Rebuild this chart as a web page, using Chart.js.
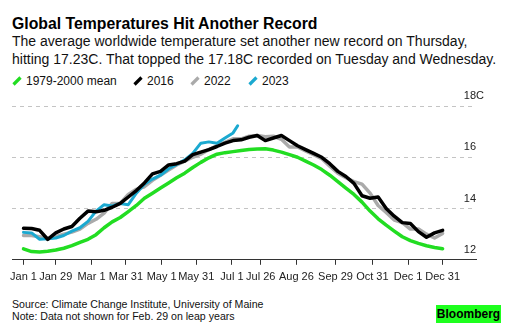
<!DOCTYPE html>
<html>
<head>
<meta charset="utf-8">
<script src="https://cdn.jsdelivr.net/npm/chart.js@4/dist/chart.umd.min.js"></script>
<style>
  html, body { margin: 0; padding: 0; background: #fff; }
  body { width: 512px; height: 332px; position: relative; overflow: hidden; font-family: "Liberation Sans", Arial, sans-serif; color: #000; }
  #title { position: absolute; left: 12px; top: 15px; font-size: 15.8px; font-weight: bold; white-space: nowrap; }
  #sub { position: absolute; left: 12px; top: 32px; font-size: 14px; line-height: 18px; white-space: nowrap; color: #111; }
  #legend { position: absolute; left: 12px; top: 74px; font-size: 12px; white-space: nowrap; color: #111; }
  .li { position: absolute; top: 0; height: 14px; line-height: 14px; }
  .sw { position: absolute; top: 2px; left: 0; width: 10px; height: 10px; }
  .lt { position: absolute; top: 0; left: 14px; }
  #chartwrap { position: absolute; left: 0; top: 88px; width: 512px; height: 203px; }
  #foot { position: absolute; left: 12px; top: 298px; font-size: 10.6px; line-height: 12px; color: #111; white-space: nowrap; }
  #logo { position: absolute; left: 436px; top: 305px; width: 65px; height: 18px; background: #1eff1e; font-weight: bold; font-size: 12px; line-height: 18px; text-align: center; color: #000; }
</style>
</head>
<body>
<div id="title">Global Temperatures Hit Another Record</div>
<div id="sub">The average worldwide temperature set another new record on Thursday,<br>hitting 17.23C. That topped the 17.18C recorded on Tuesday and Wednesday.</div>
<div id="legend"></div>
<div id="chartwrap"><canvas id="c" width="512" height="203"></canvas></div>
<div id="foot">Source: Climate Change Institute, University of Maine<br>Note: Data not shown for Feb. 29 on leap years</div>
<div id="logo">Bloomberg</div>
<script>
// ---- data ----
const days = [0,7,14,21,28,35,42,49,56,63,70,77,84,91,98,105,112,119,126,133,140,147,154,161,168,175,182,189,196,203,210,217,224,231,238,245,252,259,266,273,280,287,294,301,308,315,322,329,336,343,350,357,364];
const mean7900 = [12.43,12.32,12.30,12.33,12.38,12.45,12.55,12.68,12.80,12.98,13.25,13.48,13.65,13.88,14.12,14.40,14.60,14.80,15.00,15.20,15.38,15.60,15.80,15.98,16.12,16.18,16.22,16.26,16.30,16.32,16.33,16.28,16.20,16.10,16.00,15.85,15.70,15.52,15.30,15.05,14.80,14.55,14.25,13.90,13.60,13.35,13.12,12.90,12.75,12.64,12.55,12.48,12.43];
const y2016 = [13.23,13.22,13.15,12.80,13.05,13.20,13.30,13.62,13.90,13.87,13.93,14.05,14.20,14.45,14.70,15.00,15.35,15.45,15.70,15.75,15.85,16.10,16.20,16.30,16.42,16.55,16.65,16.68,16.78,16.85,16.65,16.75,16.85,16.65,16.45,16.30,16.15,16.00,15.75,15.45,15.25,14.98,14.50,14.40,14.45,14.00,13.70,13.45,13.42,13.10,12.88,13.05,13.15];
const y2022 = [12.95,12.95,12.90,12.82,12.90,13.00,13.08,13.20,13.42,13.58,13.82,14.20,14.20,14.55,14.75,14.85,15.10,15.30,15.50,15.70,15.85,16.00,16.12,16.30,16.45,16.58,16.72,16.72,16.82,16.85,16.80,16.82,16.70,16.40,16.40,16.25,16.10,15.95,15.65,15.38,15.20,15.05,14.95,14.60,14.12,13.85,13.55,13.45,13.20,13.20,13.00,12.85,13.03];
const days2023 = [0,7,14,21,28,35,42,49,56,63,70,77,84,91,98,105,112,119,126,133,140,147,154,161,168,175,182,186];
const y2023 = [13.07,13.05,12.80,12.82,12.85,12.95,13.12,13.25,13.50,13.90,14.15,14.10,14.20,14.15,14.60,14.95,15.15,15.30,15.55,15.72,15.90,16.15,16.55,16.60,16.55,16.75,16.95,17.23];
const tickDays = [0,28,59,89,120,150,181,206,237,271,303,334,364];
const tickLabels = ["Jan 1","Jan 29","Mar 1","Mar 31","May 1","May 31","Jul 1","Jul 26","Aug 26","Sep 29","Oct 31","Dec 1","Dec 31"];
const yTicks = [12,14,16,18];
const seriesNames = ["1979-2000 mean","2016","2022","2023"];
const seriesColors = ["#22dd22","#000000","#aaaaaa","#1ba9d0"];

// ---- legend ----
const legendX = [0,121,178,236];
const leg = document.getElementById('legend');
seriesNames.forEach((n,i)=>{
  const d = document.createElement('div');
  d.className='li'; d.style.left = legendX[i]+'px';
  d.innerHTML = '<svg class="sw" viewBox="0 0 10 10"><line x1="1.5" y1="8.5" x2="8.5" y2="1.5" stroke="'+seriesColors[i]+'" stroke-width="3.2" stroke-linecap="butt"/></svg><span class="lt">'+n+'</span>';
  leg.appendChild(d);
});

const pts = (xs, ys) => xs.map((x,i)=>({x:x, y:ys[i]}));

new Chart(document.getElementById('c'), {
  type: 'line',
  data: {
    datasets: [
      {label: seriesNames[1], data: pts(days,y2016), borderColor: seriesColors[1], borderWidth: 3.5, order: 0},
      {label: seriesNames[3], data: pts(days2023,y2023), borderColor: seriesColors[3], borderWidth: 3, order: 1},
      {label: seriesNames[2], data: pts(days,y2022), borderColor: seriesColors[2], borderWidth: 3.5, order: 2},
      {label: seriesNames[0], data: pts(days,mean7900), borderColor: seriesColors[0], borderWidth: 3.5, order: 3}
    ]
  },
  options: {
    responsive: false,
    animation: false,
    events: [],
    elements: { point: { radius: 0 }, line: { tension: 0, borderJoinStyle: 'round', borderCapStyle: 'round' } },
    layout: { padding: { left: 12, right: 20, top: 18, bottom: 1 } },
    plugins: { legend: { display: false }, tooltip: { enabled: false } },
    scales: {
      x: {
        type: 'linear', min: -10, max: 393,
        afterBuildTicks: (s) => { s.ticks = tickDays.map(v => ({value: v})); },
        ticks: { autoSkip: false, maxRotation: 0, color: '#222', font: { family: 'Liberation Sans', size: 11 }, padding: 6,
          callback: (v) => { const i = tickDays.indexOf(v); return i >= 0 ? tickLabels[i] : ''; } },
        grid: { drawOnChartArea: false, drawTicks: true, tickLength: 5, tickColor: '#333', tickWidth: 1 },
        border: { display: true, color: '#333', width: 1 }
      },
      y: {
        type: 'linear', position: 'right', min: 12, max: 18,
        afterBuildTicks: (s) => { s.ticks = yTicks.map(v => ({value: v})); },
        ticks: { mirror: true, crossAlign: 'far', padding: 8, labelOffset: -10, color: '#222', font: { family: 'Liberation Sans', size: 11 },
          callback: (v) => v === 18 ? '18C' : String(v) },
        grid: { drawTicks: false, color: '#c4c4c4', lineWidth: 1, borderDash: [4,4] },
        border: { display: false, dash: [4,4] }
      }
    }
  }
});
</script>
</body>
</html>
